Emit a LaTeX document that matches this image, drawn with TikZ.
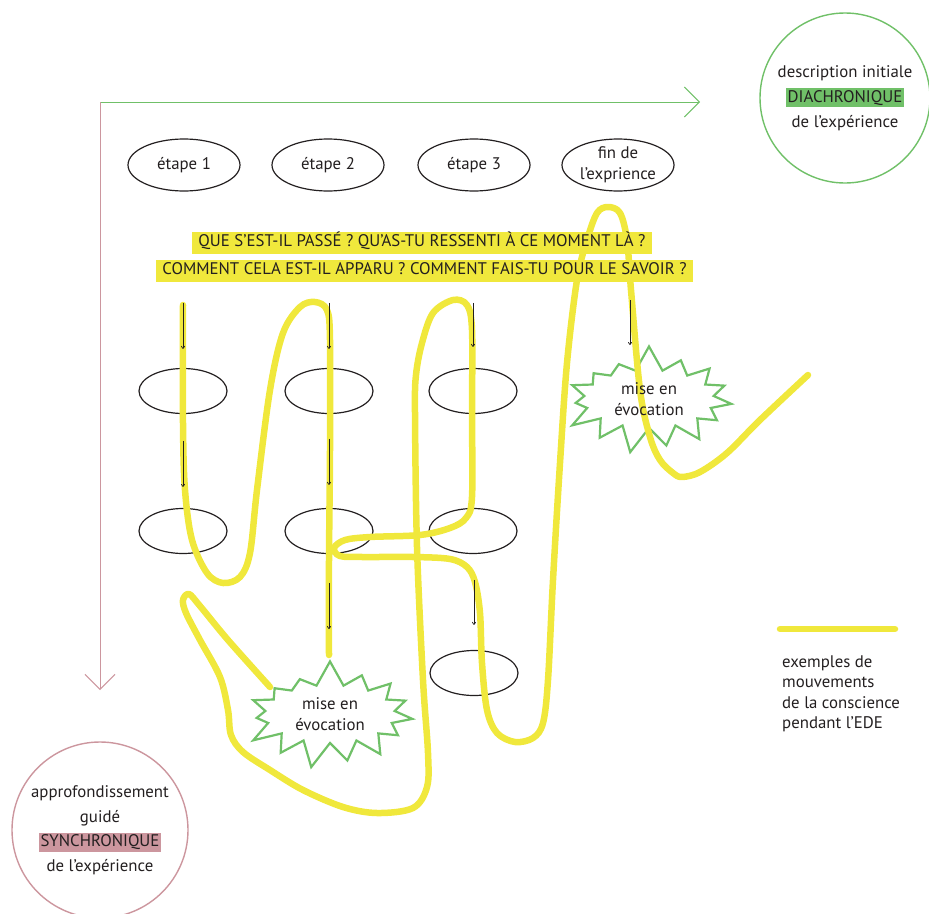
\documentclass[tikz,border=0pt]{standalone}
\usepackage{fontspec}
\setmainfont{PT Sans}
\usetikzlibrary{shapes.geometric, shapes.symbols, arrows.meta, calc}
\definecolor{jaune}{RGB}{240,232,60}
\definecolor{vert}{RGB}{112,192,104}
\definecolor{rose}{RGB}{204,150,158}
\definecolor{encre}{RGB}{35,31,32}
\setlength{\fboxsep}{2pt}

\tikzset{
  etape/.style={ellipse, draw=encre, line width=1.2pt, minimum width=112pt, minimum height=52pt, inner sep=0pt, align=center},
  vide/.style={ellipse, draw=encre, line width=1.2pt, minimum width=88pt, minimum height=45pt},
  eclat/.style={starburst, starburst points=15, starburst point height=26pt, random starburst=7, draw=vert, line width=2.2pt, fill=white, minimum width=182pt, minimum height=110pt, align=center},
  mouvement/.style={draw=jaune, line width=6.5pt, line cap=round, line join=round},
  pas/.style={-{To[length=3pt, width=4pt]}, line width=0.7pt, draw=encre},
  question/.style={fill=jaune, inner xsep=6pt, inner ysep=3pt, text height=12pt, text depth=4pt},
  cercle/.style={circle, line width=1.4pt, align=center, inner sep=0pt}
}

\begin{document}
\begin{tikzpicture}[x=1pt, y=-1pt, font=\fontsize{16.8}{21}\selectfont, text=encre]
\useasboundingbox (0,0) rectangle (929,913);

% === axes ===
\coordinate (origine) at (100,102);
\coordinate (finT) at (700,102);
\coordinate (finS) at (100,690);
\draw[vert, line width=1pt, -{Straight Barb[length=15pt, width=30pt]}] (origine) -- (finT);
\draw[rose, line width=1pt, -{Straight Barb[length=15pt, width=30pt]}] (origine) -- (finS);

% === circles ===
\node[cercle, draw=vert, minimum size=170pt, font=\fontsize{16.8}{25}\selectfont] (diachro) at (845,98)
  {description initiale\\\colorbox{vert}{DIACHRONIQUE}\\de l’expérience};
\node[cercle, draw=rose, minimum size=176pt, font=\fontsize{16.8}{24.5}\selectfont] (synchro) at (100,830)
  {approfondissement\\guidé\\\colorbox{rose}{SYNCHRONIQUE}\\de l’expérience};

% === steps ===
\node[etape] (e1) at (184,165) {étape 1};
\node[etape] (e2) at (328,165) {étape 2};
\node[etape] (e3) at (474,165) {étape 3};
\node[etape] (e4) at (618,165) {fin de\\l’exprience};

\node[vide] (c1a) at (183,391) {};
\node[vide] (c1b) at (183,531) {};
\node[vide] (c2a) at (329,391) {};
\node[vide] (c2b) at (329,531) {};
\node[vide] (c3a) at (473,391) {};
\node[vide] (c3b) at (473,531) {};
\node[vide] (c3c) at (474,673) {};

\node[eclat] (evo1) at (649,399) {};

\draw[pas] ([yshift=69pt]c3b.north) -- ([yshift=23pt]c3b.north);

% === movements ===
\draw[mouvement] plot[smooth, tension=0.55] coordinates {
  (183,305) (183,423) (185,490) (192,540) (207,573) (223,583) (240,577) (250,553)
  (257,490) (270,390) (283,333) (300,307) (315,302) (327,310) (330,340) (330,450)
  (329,560) (329,655)};
\draw[mouvement] plot[smooth, tension=0.55] coordinates {
  (270,687) (228,640) (200,606) (189,594) (183,600) (186,613) (200,640) (220,677)
  (228,710) (231,735) (243,752) (270,770) (303,790) (343,807) (377,813) (413,808)
  (427,787) (428,753) (423,680) (417,547) (415,413) (416,375) (422,343) (433,313)
  (453,300) (467,305) (472,330) (472,413) (472,497) (466,518) (450,528) (420,535)
  (370,537) (345,540) (334,548) (340,556) (363,557) (413,557) (450,559) (467,567)
  (475,582) (480,613) (482,663) (487,710) (497,733) (515,742) (533,738) (543,723)
  (548,680) (553,580) (560,463) (567,363) (577,280) (587,240) (597,213) (608,207)
  (620,213) (627,240) (631,290) (640,390) (650,437) (660,460) (673,473) (682,477)
  (700,472) (727,453) (760,420) (808,375)};

% === questions ===
\node[question] (q1) at (422,242.5) {QUE S’EST-IL PASSÉ ? QU’AS-TU RESSENTI À CE MOMENT LÀ ?};
\node[question] (q2) at (424.5,270.5) {COMMENT CELA EST-IL APPARU ? COMMENT FAIS-TU POUR LE SAVOIR ?};

\node[align=center] at (evo1) {mise en\\évocation};

% === small steps ===
\draw[pas] ([yshift=65pt]c1a.north) -- ([yshift=19pt]c1a.north);
\draw[pas] ([yshift=67pt]c1b.north) -- ([yshift=21pt]c1b.north);
\draw[pas] ([yshift=65pt]c2a.north) -- ([yshift=19pt]c2a.north);
\draw[pas] ([yshift=69pt]c2b.north) -- ([yshift=23pt]c2b.north);
\draw[pas] ([yshift=-29pt]c2b.south) -- ([yshift=-75pt]c2b.south);
\draw[pas] ([yshift=65pt]c3a.north) -- ([yshift=21pt]c3a.north);
\draw[pas] ([yshift=70pt]c3c.north) -- ([yshift=25pt]c3c.north);
\draw[pas] ([xshift=-19pt, yshift=99pt]evo1.center) -- ([xshift=-19pt, yshift=54pt]evo1.center);

\node[eclat] (evo2) at (330,714) {mise en\\évocation};

% === legend ===
\coordinate (legA) at (780,629);
\coordinate (legB) at (895,629);
\draw[mouvement] (legA) -- (legB);
\node[anchor=west, align=left, inner sep=0pt, font=\fontsize{16.8}{20.5}\selectfont] (legende) at (782,694)
  {exemples de\\mouvements\\de la conscience\\pendant l’EDE};
\end{tikzpicture}
\end{document}
